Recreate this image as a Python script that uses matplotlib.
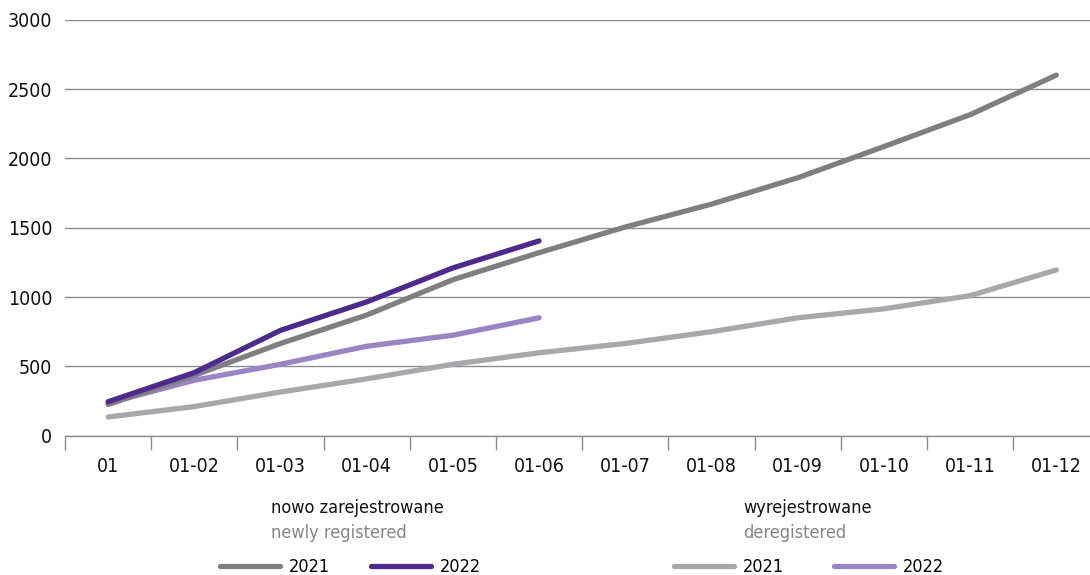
import matplotlib
matplotlib.use('Agg')
import matplotlib.pyplot as plt
from matplotlib import font_manager
from matplotlib.ticker import FixedLocator, NullFormatter

# data
months = ['01', '01-02', '01-03', '01-04', '01-05', '01-06',
          '01-07', '01-08', '01-09', '01-10', '01-11', '01-12']
new_2021 = [225, 435, 665, 870, 1125, 1320, 1505, 1670, 1860, 2085, 2315, 2600]
new_2022 = [245, 455, 760, 965, 1210, 1405]
dereg_2021 = [135, 210, 315, 410, 515, 598, 665, 750, 850, 915, 1010, 1195]
dereg_2022 = [235, 400, 515, 645, 725, 850]
y_ticks = [0, 500, 1000, 1500, 2000, 2500, 3000]

# a narrow face is closest to the original; take one if installed
narrow = [f for f in font_manager.fontManager.ttflist
          if f.stretch in ('condensed', 'semi-condensed', 'extra-condensed')
          and f.weight in (400, 'normal', 'regular') and f.style == 'normal']
found = None
for pref in ['Roboto', 'Open Sans', 'Noto Sans', 'DejaVu Sans', 'Liberation Sans']:
    for f in narrow:
        if f.name == pref:
            found = f
            break
    if found:
        break
if found is None and narrow:
    found = narrow[0]
if found is not None:
    plt.rcParams['font.family'] = [found.name, 'DejaVu Sans']
    plt.rcParams['font.stretch'] = found.stretch
    tick_fs, leg_fs = 14, 13
else:
    plt.rcParams['font.family'] = ['Roboto', 'DejaVu Sans']
    tick_fs, leg_fs = 13, 12

c_new21 = '#7f7f82'
c_new22 = '#4e2a8e'
c_der21 = '#a8a8ac'
c_der22 = '#9a84c4'

fig = plt.figure(figsize=(10.9, 5.75), dpi=100)
ax = fig.add_axes([65 / 1090, 1 - 435.7 / 575, 1 - 65 / 1090, (435.7 - 19.7) / 575])

x = list(range(len(months)))
line_kw = dict(lw=3.8, solid_capstyle='round', solid_joinstyle='round')
l_der21, = ax.plot(x, dereg_2021, color=c_der21, label='2021', **line_kw)
l_der22, = ax.plot(x[:len(dereg_2022)], dereg_2022, color=c_der22, label='2022', **line_kw)
l_new21, = ax.plot(x, new_2021, color=c_new21, label='2021', **line_kw)
l_new22, = ax.plot(x[:len(new_2022)], new_2022, color=c_new22, label='2022', **line_kw)

ax.set_ylim(0, 3000)
ax.set_xlim(-0.5, -0.5 + 1025 / 86.2)
ax.set_yticks(y_ticks)
ax.yaxis.grid(True, color='#8c8c8c', lw=1)
ax.set_axisbelow(True)
ax.tick_params(axis='y', length=0, pad=9, labelsize=tick_fs, labelcolor='#111111')

# boundaries get tick marks, centres get labels
ax.xaxis.set_major_locator(FixedLocator([i - 0.5 for i in range(len(months) + 1)]))
ax.xaxis.set_major_formatter(NullFormatter())
ax.xaxis.set_minor_locator(FixedLocator(x))
ax.set_xticklabels(months, minor=True)
ax.tick_params(axis='x', which='major', length=10, width=1, color='#8c8c8c', direction='out')
ax.tick_params(axis='x', which='minor', length=0, pad=15, labelsize=tick_fs, labelcolor='#111111')

for side in ['top', 'right', 'left']:
    ax.spines[side].set_visible(False)
ax.spines['bottom'].set_color('#8c8c8c')
ax.spines['bottom'].set_linewidth(1)

# legend blocks under the chart
fig.text(271 / 1090, 1 - 508 / 575, 'nowo zarejestrowane', fontsize=leg_fs, color='#111111', va='center')
fig.text(271 / 1090, 1 - 533 / 575, 'newly registered', fontsize=leg_fs, color='#858585', va='center')
fig.text(743 / 1090, 1 - 508 / 575, 'wyrejestrowane', fontsize=leg_fs, color='#111111', va='center')
fig.text(743 / 1090, 1 - 533 / 575, 'deregistered', fontsize=leg_fs, color='#858585', va='center')

leg_kw = dict(loc='center left', ncol=2, frameon=False, fontsize=leg_fs, handlelength=3.3,
              handletextpad=0.5, borderpad=0, borderaxespad=0)
fig.legend(handles=[l_new21, l_new22], bbox_to_anchor=(220 / 1090, 1 - 567 / 575),
           columnspacing=2.3, **leg_kw)
fig.legend(handles=[l_der21, l_der22], bbox_to_anchor=(674 / 1090, 1 - 567 / 575),
           columnspacing=2.8, **leg_kw)

fig.savefig('out.png', dpi=100)
